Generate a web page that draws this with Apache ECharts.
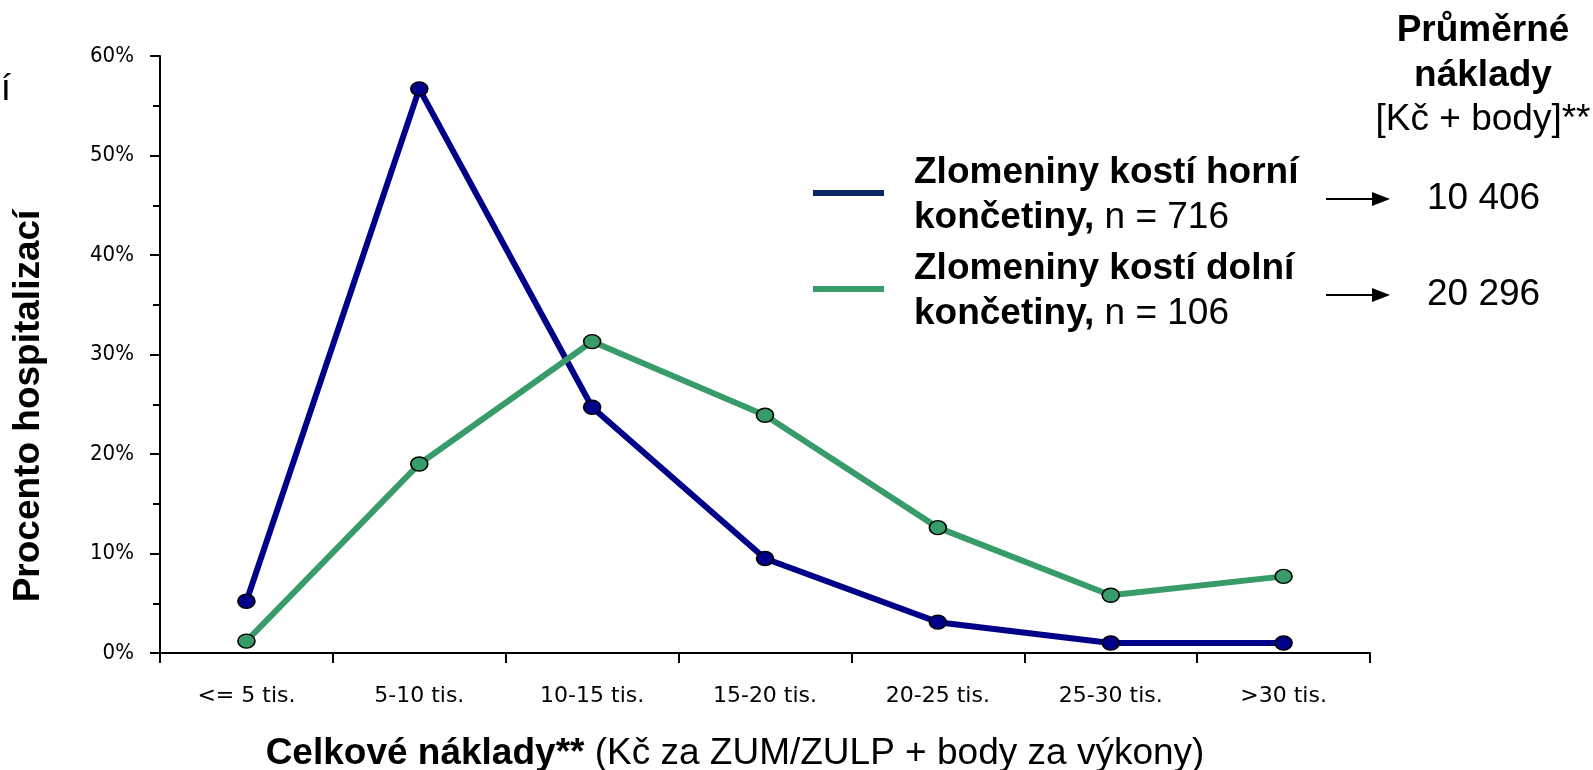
<!DOCTYPE html>
<html>
<head>
<meta charset="utf-8">
<script src="https://cdn.jsdelivr.net/npm/echarts@6/dist/echarts.min.js"></script>
<style>
  html, body { margin: 0; padding: 0; background: #fff; }
  #chart { width: 1593px; height: 770px; }
</style>
</head>
<body>
<div id="chart"></div>
<script>
// data
const categories = ['<= 5 tis.', '5-10 tis.', '10-15 tis.', '15-20 tis.', '20-25 tis.', '25-30 tis.', '>30 tis.'];
const horniValues = [0.052, 0.567, 0.247, 0.095, 0.031, 0.010, 0.010];
const dolniValues = [0.012, 0.190, 0.313, 0.239, 0.126, 0.058, 0.077];
const legendNames = ['Zlomeniny kostí horní', 'Zlomeniny kostí dolní'];
const legendCounts = ['n = 716', 'n = 106'];
const avgCosts = ['10 406', '20 296'];

const blueLine = '#000088';
const blueLegend = '#0c2566';
const green = '#379c6a';
const bigFont = 37;
const boldFont = 'bold ' + bigFont + 'px "Liberation Sans", Arial';
const normalFont = bigFont + 'px "Liberation Sans", Arial';

const chart = echarts.init(document.getElementById('chart'));

const legendGraphics = [];
[0, 1].forEach(i => {
    const y0 = i === 0 ? 173 : 269;
    const ly = y0 + 20;
    const ay = y0 + 26;
    legendGraphics.push(
        { type: 'line', shape: { x1: 813, y1: ly, x2: 884, y2: ly },
          style: { stroke: i === 0 ? blueLegend : green, lineWidth: 6 } },
        { type: 'text', x: 914, y: y0,
          style: { text: legendNames[i], font: boldFont, fill: '#000', textVerticalAlign: 'middle' } },
        { type: 'text', x: 914, y: y0 + 45,
          style: { text: '{b|končetiny,}{n| ' + legendCounts[i] + '}', textVerticalAlign: 'middle',
                   rich: { b: { font: boldFont, fill: '#000' }, n: { font: normalFont, fill: '#000' } } } },
        { type: 'line', shape: { x1: 1326, y1: ay, x2: 1378, y2: ay }, style: { stroke: '#000', lineWidth: 2 } },
        { type: 'polygon', shape: { points: [[1372, ay - 7], [1390, ay], [1372, ay + 7]] }, style: { fill: '#000' } },
        { type: 'text', x: 1427, y: ay,
          style: { text: avgCosts[i], font: normalFont, fill: '#000', textVerticalAlign: 'middle' } }
    );
});

const option = {
    animation: false,
    backgroundColor: '#fff',
    grid: { left: 160, right: 223, top: 56, bottom: 117 },
    xAxis: {
        type: 'category',
        data: categories,
        boundaryGap: true,
        axisLine: { lineStyle: { color: '#000', width: 2 } },
        axisTick: { show: true, length: 10, lineStyle: { color: '#000', width: 2 } },
        axisLabel: { color: '#000', fontFamily: '"DejaVu Sans", Verdana', fontSize: 22, margin: 32 }
    },
    yAxis: {
        type: 'value',
        min: 0,
        max: 0.6,
        interval: 0.1,
        splitLine: { show: false },
        axisLine: { show: true, lineStyle: { color: '#000', width: 2 } },
        axisTick: { show: true, length: 10, lineStyle: { color: '#000', width: 2 } },
        minorTick: { show: true, splitNumber: 2, length: 7, lineStyle: { color: '#000', width: 2 } },
        axisLabel: {
            color: '#000', fontFamily: '"DejaVu Sans Condensed", "DejaVu Sans"', fontSize: 22, margin: 26,
            formatter: v => Math.round(v * 100) + '%'
        }
    },
    series: [
        {
            name: legendNames[0],
            type: 'line',
            data: horniValues,
            symbol: 'circle',
            symbolSize: [17, 14],
            lineStyle: { color: blueLine, width: 6 },
            itemStyle: { color: blueLine, borderColor: '#000', borderWidth: 1.5 }
        },
        {
            name: legendNames[1],
            type: 'line',
            data: dolniValues,
            symbol: 'circle',
            symbolSize: [17, 14],
            lineStyle: { color: green, width: 6 },
            itemStyle: { color: green, borderColor: '#000', borderWidth: 1.5 }
        }
    ],
    graphic: [
        { type: 'text', x: 11, y: 90,
          style: { text: 'í', font: normalFont, fill: '#000', textAlign: 'right', textVerticalAlign: 'middle' } },
        { type: 'text', x: 29, y: 406, rotation: Math.PI / 2,
          style: { text: 'Procento hospitalizací', font: boldFont, fill: '#000',
                   textAlign: 'center', textVerticalAlign: 'middle' } },
        { type: 'text', x: 735, y: 754,
          style: { text: '{b|Celkové náklady**}{n| (Kč za ZUM/ZULP + body za výkony)}', textAlign: 'center', textVerticalAlign: 'middle',
                   rich: { b: { font: boldFont, fill: '#000' }, n: { font: normalFont, fill: '#000' } } } },
        { type: 'text', x: 1483, y: 31,
          style: { text: 'Průměrné', font: boldFont, fill: '#000', textAlign: 'center', textVerticalAlign: 'middle' } },
        { type: 'text', x: 1483, y: 76,
          style: { text: 'náklady', font: boldFont, fill: '#000', textAlign: 'center', textVerticalAlign: 'middle' } },
        { type: 'text', x: 1483, y: 120,
          style: { text: '[Kč + body]**', font: normalFont, fill: '#000', textAlign: 'center', textVerticalAlign: 'middle' } }
    ].concat(legendGraphics)
};

chart.setOption(option);
</script>
</body>
</html>
